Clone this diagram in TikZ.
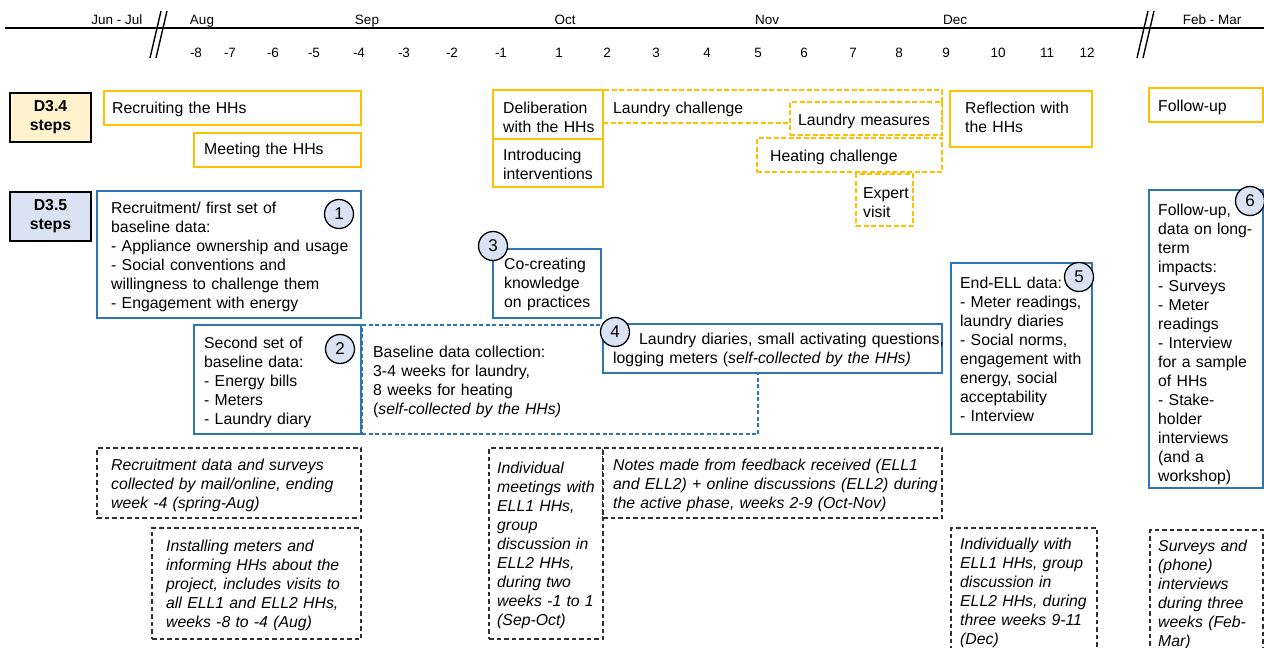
\documentclass[tikz,border=0pt]{standalone}
\usepackage{fontspec}
\setmainfont{Liberation Sans}
\definecolor{gold}{HTML}{FFC000}
\definecolor{bluec}{HTML}{2E75B6}
\definecolor{cfill}{HTML}{DAE3F3}
\definecolor{yfill}{HTML}{FFF2CC}
\definecolor{kdash}{HTML}{303030}
\newcommand\RB[6]{\node[#1, anchor=north west, minimum width={#5-#3}, minimum height={#6-#4}] (#2) at (#3,#4) {};}
\begin{document}
\begin{tikzpicture}[x=1pt,y=-1pt,
  base/.style={inner sep=0pt, outer sep=0pt, line width=1.5pt, fill=white},
  ybox/.style={base, draw=gold},
  ydash/.style={base, draw=gold, dash pattern=on 5pt off 2.5pt},
  bbox/.style={base, draw=bluec},
  bdash/.style={base, draw=bluec, dash pattern=on 4pt off 2.5pt},
  kbox/.style={base, draw=kdash, line width=1.3pt, dash pattern=on 4.5pt off 3pt},
  stepsbox/.style={inner sep=0pt, outer sep=0pt, draw=black, line width=2pt},
  txt/.style={inner sep=0pt, align=left, text width=400pt, font=\fontsize{15.8}{19}\selectfont},
  itxt/.style={txt, font=\fontsize{15.8}{19}\selectfont\itshape},
  mon/.style={inner sep=0pt, anchor=base, font=\fontsize{13.5}{16}\selectfont},
  num/.style={circle, draw=black, line width=1.3pt, fill=cfill, minimum size=29pt, inner sep=0pt, font=\fontsize{17}{17}\selectfont},
  axis/.style={line width=2pt},
  brk/.style={line width=1.4pt}
]
\useasboundingbox (0,0) rectangle (1264,648);

% ---------------- timeline ----------------
\coordinate (axL) at (5,28);
\coordinate (axR) at (1264,28);
\draw[axis] (axL) -- (axR);
\coordinate (b1a) at (161,11); \coordinate (b1b) at (150,58);
\coordinate (b1c) at (167,11); \coordinate (b1d) at (156,58);
\coordinate (b2a) at (1148,11); \coordinate (b2b) at (1137,58);
\coordinate (b2c) at (1154,11); \coordinate (b2d) at (1143,58);
\draw[brk] (b1a) -- (b1b);
\draw[brk] (b1c) -- (b1d);
\draw[brk] (b2a) -- (b2b);
\draw[brk] (b2c) -- (b2d);

\node[mon] (mJJ) at (117,24) {Jun - Jul};
\node[mon] (mAug) at (202,24) {Aug};
\node[mon] (mSep) at (367,24) {Sep};
\node[mon] (mOct) at (565,24) {Oct};
\node[mon] (mNov) at (767,24) {Nov};
\node[mon] (mDec) at (955,24) {Dec};
\node[mon] (mFM) at (1212,24) {Feb - Mar};

\foreach \x/\l [count=\i] in {196/-8,230/-7,273/-6,314/-5,359/-4,404/-3,452/-2,501/-1,559/1,607/2,656/3,707/4,758/5,804/6,853/7,899/8,946/9,998/10,1047/11,1087/12}
  \node[mon] (wk\i) at (\x,57) {\l};

% ---------------- row labels ----------------
\RB{stepsbox, fill=yfill}{d34}{10}{93}{91}{142}
\node[align=center, font=\fontsize{15.8}{19}\selectfont\bfseries] (d34t) at (d34) {D3.4\\steps};
\RB{stepsbox, fill=cfill}{d35}{10}{192}{91}{241}
\node[align=center, font=\fontsize{15.8}{19}\selectfont\bfseries] (d35t) at (d35) {D3.5\\steps};

% ---------------- D3.4 boxes ----------------
\RB{ybox}{recr}{104}{91}{361}{125}
\node[txt, anchor=base west] (recrT) at (112,113) {Recruiting the HHs};
\RB{ybox}{meet}{194}{133}{361}{167}
\node[txt, anchor=base west] (meetT) at (204,154) {Meeting the HHs};

\RB{ydash}{lchal}{603}{90}{942}{123}
\node[txt, anchor=base west] (lchalT) at (613,113) {Laundry challenge};
\RB{ybox}{delib}{493}{90}{603}{139}
\node[txt, anchor=base west] (delibT) at (503,113) {Deliberation\\with the HHs};
\RB{ybox}{intro}{493}{139}{603}{187}
\node[txt, anchor=base west] (introT) at (503,160) {Introducing\\interventions};
\RB{ydash}{lmeas}{790}{102}{942}{135}
\node[txt, anchor=base west] (lmeasT) at (798,125) {Laundry measures};
\RB{ydash}{hchal}{757}{138}{942}{172}
\node[txt, anchor=base west] (hchalT) at (770,161) {Heating challenge};
\RB{ydash}{expert}{856}{174}{913}{226}
\node[txt, anchor=base west] (expertT) at (863,198) {Expert\\visit};
\RB{ybox}{refl}{950}{91}{1092}{147}
\node[txt, anchor=base west] (reflT) at (965,113) {Reflection with\\the HHs};
\RB{ybox}{fup}{1149}{88}{1263}{122}
\node[txt, anchor=base west] (fupT) at (1158,111) {Follow-up};

% ---------------- D3.5 boxes ----------------
\RB{bbox}{s1}{97}{191}{361}{318}
\node[txt, anchor=base west] (s1T) at (111,213) {Recruitment/ first set of\\baseline data:\\- Appliance ownership and usage\\- Social conventions and\\willingness to challenge them\\- Engagement with energy};
\RB{bbox}{s3}{493}{249}{601}{318}
\node[txt, anchor=base west] (s3T) at (504,269) {Co-creating\\knowledge\\on practices};
\RB{bdash}{bdc}{362}{325}{758}{434}
\node[txt, anchor=base west] (bdcT) at (373,357) {Baseline data collection:\\3-4 weeks for laundry,\\8 weeks for heating\\(\textit{self-collected by the HHs)}};
\RB{bbox}{s2}{194}{325}{361}{434}
\node[txt, anchor=base west] (s2T) at (204,348) {Second set of\\baseline data:\\- Energy bills\\- Meters\\- Laundry diary};
\RB{bbox}{s4}{603}{324}{942}{373}
\node[txt, anchor=base west] (s4T) at (613,344) {\hspace*{26pt}Laundry diaries, small activating questions,\\logging meters (\textit{self-collected by the HHs)}};
\RB{bbox}{s5}{951}{263}{1092}{434}
\node[txt, anchor=base west] (s5T) at (960,288) {End-ELL data:\\- Meter readings,\\laundry diaries\\- Social norms,\\engagement with\\energy, social\\acceptability\\- Interview};
\RB{bbox}{s6}{1149}{190}{1263}{488}
\node[txt, anchor=base west] (s6T) at (1158,215) {Follow-up,\\data on long-\\term\\impacts:\\- Surveys\\- Meter\\readings\\- Interview\\for a sample\\of HHs\\- Stake-\\holder\\interviews\\(and a\\workshop)};

% circles
\node[num] (c1) at (339,214) {1};
\node[num] (c2) at (340,349) {2};
\node[num] (c3) at (493,246) {3};
\node[num] (c4) at (615,332) {4};
\node[num] (c5) at (1079,277) {5};
\node[num] (c6) at (1250,201) {6};

% ---------------- dashed notes ----------------
\RB{kbox}{n1}{97}{448}{361}{518}
\node[itxt, anchor=base west] (n1T) at (111,470) {Recruitment data and surveys\\collected by mail/online, ending\\week -4 (spring-Aug)};
\RB{kbox}{n2}{152}{528}{361}{639}
\node[itxt, anchor=base west] (n2T) at (166,551) {Installing meters and\\informing HHs about the\\project, includes visits to\\all ELL1 and ELL2 HHs,\\weeks -8 to -4 (Aug)};
\RB{kbox}{n3}{489}{448}{603}{639}
\node[itxt, anchor=base west] (n3T) at (497,473) {Individual\\meetings with\\ELL1 HHs,\\group\\discussion in\\ELL2 HHs,\\during two\\weeks -1 to 1\\(Sep-Oct)};
\RB{kbox}{n4}{603}{448}{942}{518}
\node[itxt, anchor=base west] (n4T) at (613,470) {Notes made from feedback received (ELL1\\and ELL2) + online discussions (ELL2) during\\the active phase, weeks 2-9 (Oct-Nov)};
\RB{kbox}{n5}{951}{528}{1097}{658}
\node[itxt, anchor=base west] (n5T) at (960,549) {Individually with\\ELL1 HHs, group\\discussion in\\ELL2 HHs, during\\three weeks 9-11\\(Dec)};
\RB{kbox}{n6}{1150}{530}{1263}{658}
\node[itxt, anchor=base west] (n6T) at (1158,551) {Surveys and\\(phone)\\interviews\\during three\\weeks (Feb-\\Mar)};
\end{tikzpicture}
\end{document}
